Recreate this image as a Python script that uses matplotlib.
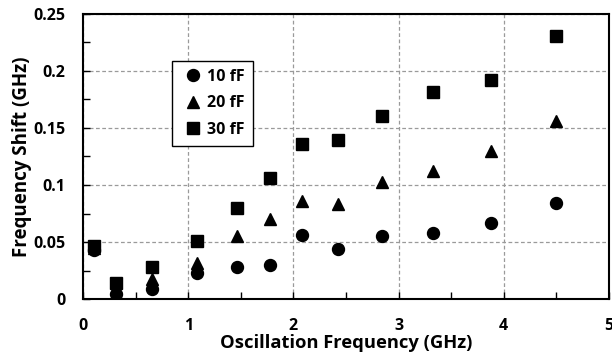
import matplotlib
matplotlib.use("Agg")
import matplotlib.pyplot as plt
from matplotlib.ticker import MultipleLocator

plt.rcParams['font.family'] = ['Open Sans', 'DejaVu Sans']
plt.rcParams['font.weight'] = 'bold'

osc_freq = [0.107, 0.31, 0.66, 1.085, 1.465, 1.776, 2.086, 2.425, 2.846, 3.327, 3.88, 4.50]
shift_10fF = [0.043, 0.005, 0.009, 0.023, 0.028, 0.030, 0.056, 0.044, 0.055, 0.058, 0.067, 0.084]
shift_20fF = [0.045, 0.010, 0.018, 0.032, 0.055, 0.070, 0.086, 0.083, 0.103, 0.112, 0.130, 0.156]
shift_30fF = [0.0466, 0.014, 0.0285, 0.051, 0.080, 0.106, 0.136, 0.1395, 0.160, 0.181, 0.192, 0.230]
series_labels = ['10 fF', '20 fF', '30 fF']

W, H = 612, 356
fig = plt.figure(figsize=(W/100, H/100), dpi=100)
ax = fig.add_axes([83/W, 1-299.3/H, (609-83)/W, (299.3-13.5)/H])

ax.plot(osc_freq, shift_10fF, 'o', color='black', markersize=8.6, label=series_labels[0], zorder=3)
ax.plot(osc_freq, shift_20fF, '^', color='black', markersize=8.6, label=series_labels[1], zorder=3)
ax.plot(osc_freq, shift_30fF, 's', color='black', markersize=8.2, label=series_labels[2], zorder=3)

ax.set_xlim(0, 5)
ax.set_ylim(0, 0.25)
ax.xaxis.set_minor_locator(MultipleLocator(0.5))
ax.yaxis.set_minor_locator(MultipleLocator(0.025))
ax.set_yticks([0, 0.05, 0.1, 0.15, 0.2, 0.25])
ax.set_yticklabels(['0', '0.05', '0.1', '0.15', '0.2', '0.25'])
ax.set_xticks([0, 1, 2, 3, 4, 5])
ax.set_xticklabels(['0', '1', '2', '3', '4', '5'])

ax.grid(True, which='major', color='#9a9a9a', linestyle=(0, (3, 2)), linewidth=0.9)
ax.set_axisbelow(True)
ax.tick_params(which='both', direction='in', length=5, width=1, colors='black', labelsize=11.5)
ax.tick_params(axis='x', pad=13.5)
ax.tick_params(axis='y', pad=12.5)
for lab in ax.get_xticklabels() + ax.get_yticklabels():
    lab.set_fontweight('bold')
for s in ax.spines.values():
    s.set_linewidth(1.5)
    s.set_color('black')

ax.set_xlabel('Oscillation Frequency (GHz)', fontsize=13.2, fontweight='bold', labelpad=0)
ax.set_ylabel('Frequency Shift (GHz)', fontsize=13.5, fontweight='bold', labelpad=1)

leg = ax.legend(loc='upper left', bbox_to_anchor=((172-83)/(609-83), 1-(61-13.5)/(299.3-13.5)),
                borderaxespad=0,
                frameon=True, fancybox=False, edgecolor='black', framealpha=1,
                handletextpad=0.1, handlelength=1.6, labelspacing=0.65, borderpad=0.5,
                prop={'weight': 'bold', 'size': 11.5})
leg.get_frame().set_linewidth(1.0)

fig.savefig('out.png', dpi=100)
